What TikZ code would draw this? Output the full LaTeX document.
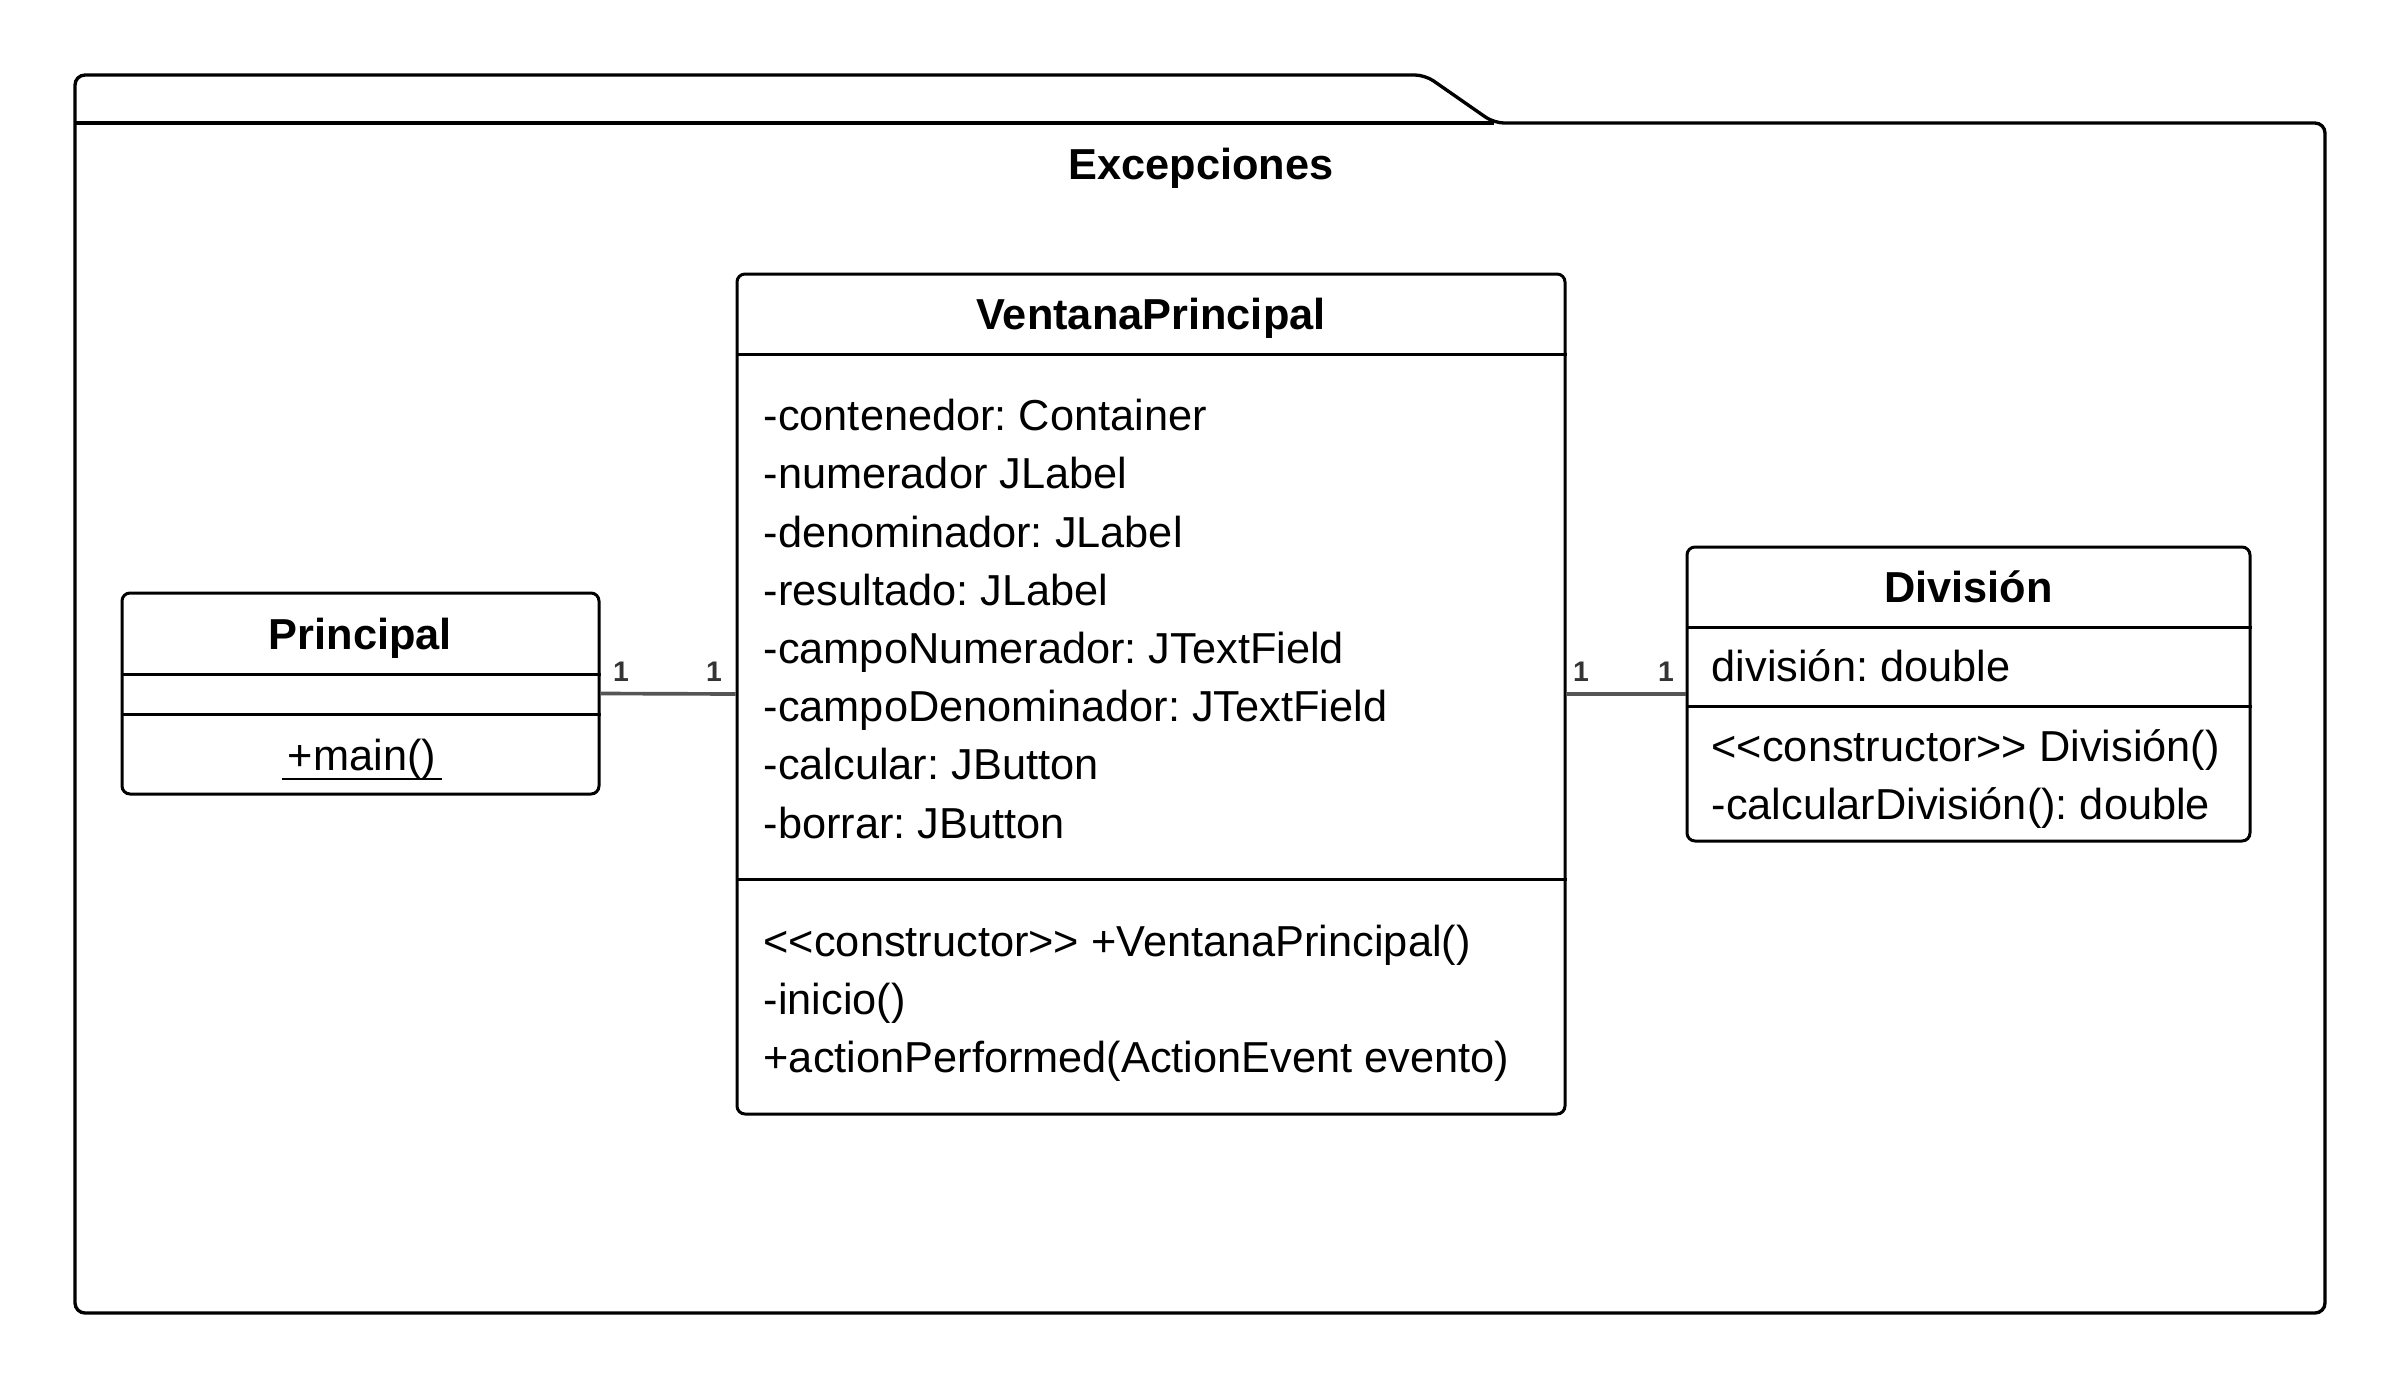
\documentclass[tikz,border=0pt]{standalone}
\usepackage{fontspec}
\setmainfont{Liberation Sans}[Ligatures=TeXOff]
\definecolor{conn}{HTML}{555555}
\definecolor{mult}{HTML}{333333}
\tikzset{
  umlbox/.style={draw=black, line width=0.9pt, rounded corners=2.4pt, inner sep=0pt, fill=white},
  sepline/.style={draw=black, line width=0.9pt},
  title/.style={font=\fontsize{13}{15}\selectfont\bfseries, inner sep=0pt, text height=0.716em, text depth=0pt, yshift=-1.2pt},
  member/.style={font=\fontsize{13}{15}\selectfont, inner sep=0pt, anchor=west, text height=0.716em, text depth=0pt, yshift=-1.2pt},
  multlabel/.style={font=\fontsize{8.5}{10}\selectfont\bfseries, text=mult, inner sep=0pt},
  assoc/.style={draw=conn, line width=1.1pt},
}
\begin{document}
\frenchspacing
\begin{tikzpicture}[x=0.3pt, y=-0.3pt]
\useasboundingbox (0,0) rectangle (2400,1388);
% package
\draw[line width=1pt, rounded corners=3pt] (75,1313) -- (75,75) -- (1425,75) -- (1494,123) -- (2325,123) -- (2325,1313) -- cycle;
\draw[line width=1pt] (75,123) -- (1494,123);
\node[title] (pkg) at (1201,164) {Excepciones};

% Principal
\node[umlbox, minimum width=143.1pt, minimum height=60.3pt] (pr) at (360.5,693.5) {};
\node[title] (prt) at (360.5,634) {Principal};
\draw[sepline] (pr.west |- 0,674) -- (pr.east |- 0,674);
\draw[sepline] (pr.west |- 0,714) -- (pr.east |- 0,714);
\node[member, anchor=center] (prm) at (362,755) {+main()};
\draw[line width=0.7pt] ([xshift=-1.5pt,yshift=-2.2pt]prm.south west) -- ([xshift=1.5pt,yshift=-2.2pt]prm.south east);

% VentanaPrincipal
\node[umlbox, minimum width=248.4pt, minimum height=252pt] (vp) at (1151,694) {};
\node[title] (vpt) at (1151,314) {VentanaPrincipal};
\draw[sepline] (vp.west |- 0,354) -- (vp.east |- 0,354);
\node[member] (a1) at (763,415) {-contenedor: Container};
\node[member] (a2) at (763,473) {-numerador JLabel};
\node[member] (a3) at (763,532) {-denominador: JLabel};
\node[member] (a4) at (763,590) {-resultado: JLabel};
\node[member] (a5) at (763,648) {-campoNumerador: JTextField};
\node[member] (a6) at (763,706) {-campoDenominador: JTextField};
\node[member] (a7) at (763,764) {-calcular: JButton};
\node[member] (a8) at (763,823) {-borrar: JButton};
\draw[sepline] (vp.west |- 0,879) -- (vp.east |- 0,879);
\node[member] (m1) at (763,941) {<<constructor>> +VentanaPrincipal()};
\node[member] (m2) at (763,999) {-inicio()};
\node[member] (m3) at (763,1057) {+actionPerformed(ActionEvent evento)};

% Division
\node[umlbox, minimum width=168.9pt, minimum height=88.2pt] (dv) at (1968.5,694) {};
\node[title] (dvt) at (1968.5,587) {División};
\draw[sepline] (dv.west |- 0,627) -- (dv.east |- 0,627);
\node[member] (d1) at (1711,666) {división: double};
\draw[sepline] (dv.west |- 0,706) -- (dv.east |- 0,706);
\node[member] (d2) at (1711,746) {<<constructor>> División()};
\node[member] (d3) at (1711,804) {-calcularDivisión(): double};

% associations
\draw[assoc] (pr.east) -- (vp.west);
\draw[assoc] (vp.east) -- (dv.west);
\node[multlabel] (l1) at (621,672) {1};
\node[multlabel] (l2) at (714,672) {1};
\node[multlabel] (l3) at (1581,672) {1};
\node[multlabel] (l4) at (1666,672) {1};
\end{tikzpicture}
\end{document}
